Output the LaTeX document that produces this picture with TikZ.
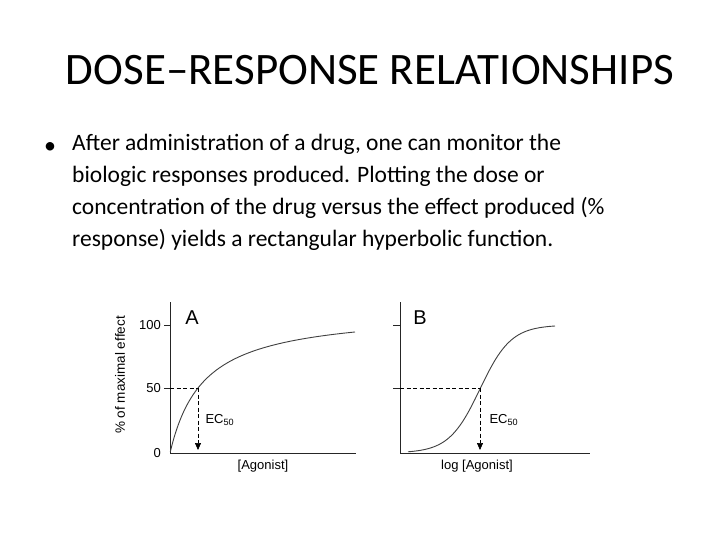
\documentclass[tikz,border=0pt]{standalone}
\usepackage{fontspec}
\setmainfont{Carlito}
\newfontfamily\plotfont{Liberation Sans}
\usetikzlibrary{arrows.meta}
\begin{document}
\begin{tikzpicture}[x=1pt,y=-1pt,
  ax/.style={line width=0.9pt,black!85},
  crv/.style={line width=0.9pt,black!75},
  dsh/.style={dashed,line width=0.7pt,dash pattern=on 4pt off 2.5pt},
  tk/.style={font=\plotfont\fontsize{13}{13}\selectfont,anchor=east,inner sep=2pt},
  lbl/.style={font=\plotfont\fontsize{13}{13}\selectfont}]
\useasboundingbox[fill=white] (0,0) rectangle (720,540);
\node[font=\fontsize{45}{48}\selectfont] (title) at (370,70) {DOSE–RESPONSE RELATIONSHIPS};
\node[anchor=base,font=\fontsize{24}{24}\selectfont,inner sep=0] (bul) at (50,154) {•};
\node[anchor=north west,font=\fontsize{23.5}{32}\selectfont,align=left,inner sep=0] (txt) at (72,134)
 {After administration of a drug, one can monitor the\\ biologic responses produced. Plotting the dose or\\ concentration of the drug versus the effect produced (\%\\ response) yields a rectangular hyperbolic function.};
% panel A
\coordinate (Ao) at (170,453);
\draw[ax] (170,302) -- (Ao) -- (356,453);
\draw[ax] (164,325) -- (170,325);
\draw[ax] (164,388) -- (170,388);
\node[tk] (t100) at (163,325) {100};
\node[tk] (t50) at (163,388) {50};
\node[tk] (t0) at (163,453) {0};
\node[font=\plotfont\fontsize{20}{20}\selectfont] (A) at (192,318) {A};
\draw[crv] plot[domain=0.3:185,samples=100,smooth] ({170+\x},{453-143/(1+33.6/\x)});
\coordinate (pA) at (198,388);
\coordinate (eA) at (198,450);
\draw[dsh] (170,388) -- (pA);
\draw[dsh,-{Triangle[length=7pt,width=6pt]}] (pA) -- (eA);
\node[lbl,anchor=west] (ecA) at (202,420) {EC\textsubscript{50}};
\node[lbl] (xA) at (263,466) {[Agonist]};
\node[font=\plotfont\fontsize{13.5}{13.5}\selectfont,rotate=90] (ylab) at (120,375) {\% of maximal effect};
% panel B
\draw[ax] (400,302) -- (400,453) -- (590,453);
\draw[ax] (393,325) -- (400,325);
\draw[ax] (393,388) -- (400,388);
\node[font=\plotfont\fontsize{20}{20}\selectfont] (B) at (420,318) {B};
\draw[crv] plot[domain=-72:75,samples=80,smooth] ({480+\x},{453-128/(1+exp(-\x/15.5))});
\coordinate (pB) at (480,388);
\coordinate (eB) at (480,450);
\draw[dsh] (400,388) -- (pB);
\draw[dsh,-{Triangle[length=7pt,width=6pt]}] (pB) -- (eB);
\node[lbl,anchor=west] (ecB) at (486,420) {EC\textsubscript{50}};
\node[lbl] (xB) at (477,466) {log [Agonist]};
\end{tikzpicture}
\end{document}
